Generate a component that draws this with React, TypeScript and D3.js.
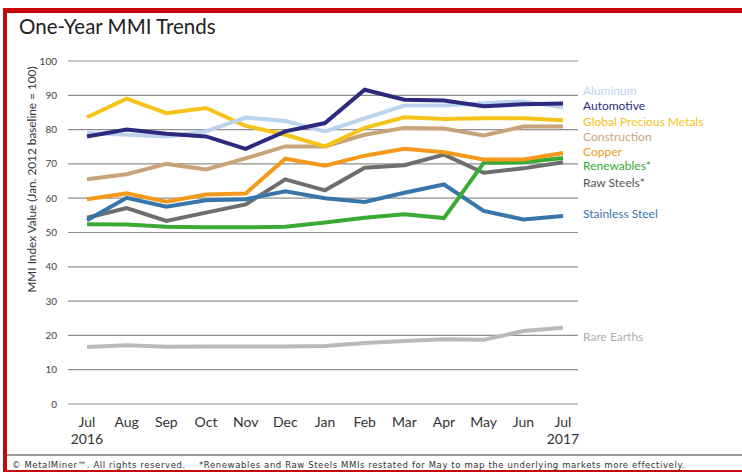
import React from "react";
import * as d3 from "d3";

const months = ["Jul", "Aug", "Sep", "Oct", "Nov", "Dec", "Jan", "Feb", "Mar", "Apr", "May", "Jun", "Jul"];
const yearLabels = ["2016", "", "", "", "", "", "", "", "", "", "", "", "2017"];
const yTicks = [0, 10, 20, 30, 40, 50, 60, 70, 80, 90, 100];

const aluminum = [79, 78.5, 78, 79.5, 83.5, 82.5, 79.5, 83.3, 87, 87, 87.7, 88.2, 86.5];
const automotive = [78, 80, 78.8, 78, 74.4, 79.5, 81.9, 91.6, 88.7, 88.5, 86.8, 87.4, 87.6];
const preciousMetals = [83.6, 89, 84.8, 86.3, 81.1, 78.5, 75.1, 80.5, 83.6, 83.1, 83.3, 83.3, 82.7];
const construction = [65.5, 67, 70, 68.4, 71.6, 75.1, 75.1, 78.5, 80.5, 80.3, 78.3, 80.9, 80.9];
const copper = [59.7, 61.4, 59, 61.1, 61.4, 71.5, 69.5, 72.4, 74.4, 73.4, 71.3, 71.3, 73.2];
const renewables = [52.4, 52.3, 51.7, 51.5, 51.5, 51.7, 52.9, 54.3, 55.3, 54.2, 70.3, 70.5, 71.7];
const rawSteels = [54.3, 57.1, 53.4, 55.8, 58.2, 65.5, 62.3, 68.9, 69.6, 72.7, 67.4, 68.7, 70.5];
const stainless = [53.6, 60.1, 57.5, 59.4, 59.7, 62.0, 60.0, 58.9, 61.6, 64.0, 56.3, 53.8, 54.8];
const rareEarths = [16.6, 17.1, 16.7, 16.8, 16.8, 16.8, 16.9, 17.8, 18.4, 18.9, 18.7, 21.3, 22.2];

const seriesNames = ["Rare Earths", "Raw Steels*", "Stainless Steel", "Renewables*", "Copper", "Construction", "Global Precious Metals", "Aluminum", "Automotive"];
const seriesValues = [rareEarths, rawSteels, stainless, renewables, copper, construction, preciousMetals, aluminum, automotive];
const lineColors = ["#b9b9b9", "#6e6e6e", "#3876aa", "#3aaa35", "#f39a1d", "#c9a47a", "#f6c418", "#bcd3ee", "#2c2a7f"];
const textColors = ["#b0b0b0", "#555555", "#3876aa", "#3aaa35", "#f39a1d", "#c9a47a", "#f6c418", "#bcd3ee", "#2c2a7f"];
const labelYValues = [19.5, 64.5, 55.5, 69.5, 73.5, 78, 82.3, 91.3, 86.9];

export default function App() {
  const W = 742, H = 472;
  const x = d3.scalePoint<number>().domain(d3.range(months.length)).range([87, 563]);
  const y = d3.scaleLinear().domain([0, 100]).range([404, 61]);
  const line = d3.line<number>().x((_, i) => x(i)!).y((d) => y(d));
  const font = "Lato, 'Open Sans', sans-serif";

  return (
    <svg width={W} height={H} style={{ position: "absolute", left: 0, top: 0, background: "#fff" }} fontFamily={font}>
      <rect x={0} y={0} width={W} height={H} fill="#fff" />
      <rect x={3} y={8} width={W - 3} height={5} fill="#c8060c" />
      <rect x={3} y={8} width={4} height={H - 8} fill="#c8060c" />
      <rect x={3} y={470} width={W - 3} height={2} fill="#c8060c" />

      <text x={19} y={34} fontSize={20.5} fill="#222">One-Year MMI Trends</text>

      <text transform={`translate(36,${y(50) - 53}) rotate(-90)`} textAnchor="middle" fontSize={11.8} fill="#333">
        MMI Index Value (Jan. 2012 baseline = 100)
      </text>

      {yTicks.map((t) => (
        <g key={t}>
          <line x1={68} x2={578} y1={y(t)} y2={y(t)} stroke="#8f8f8f" strokeWidth={1.2} />
          <text x={57} y={y(t)} dy="0.35em" textAnchor="end" fontSize={10} fill="#444">{t}</text>
        </g>
      ))}

      {seriesValues.map((vals, i) => (
        <path key={seriesNames[i]} d={line(vals) || ""} fill="none" stroke={lineColors[i]} strokeWidth={4} strokeLinejoin="miter" strokeLinecap="butt" />
      ))}

      {seriesNames.map((n, i) => (
        <text key={n} x={583} y={y(labelYValues[i])} dy="0.35em" fontSize={12} fill={textColors[i]}>{n}</text>
      ))}

      {months.map((m, i) => (
        <g key={i}>
          <text x={x(i)} y={427} textAnchor="middle" fontSize={14} fill="#333">{m}</text>
          {yearLabels[i] && <text x={x(i)} y={444} textAnchor="middle" fontSize={14} fill="#333">{yearLabels[i]}</text>}
        </g>
      ))}

      <line x1={7} x2={W} y1={455} y2={455} stroke="#777" strokeWidth={1.5} />
      <text x={12} y={468} fontSize={8.5} letterSpacing={0.6} fill="#333" fontFamily="'DejaVu Sans', sans-serif" xmlSpace="preserve">
        © MetalMiner™. All rights reserved.    *Renewables and Raw Steels MMIs restated for May to map the underlying markets more effectively.
      </text>
    </svg>
  );
}
